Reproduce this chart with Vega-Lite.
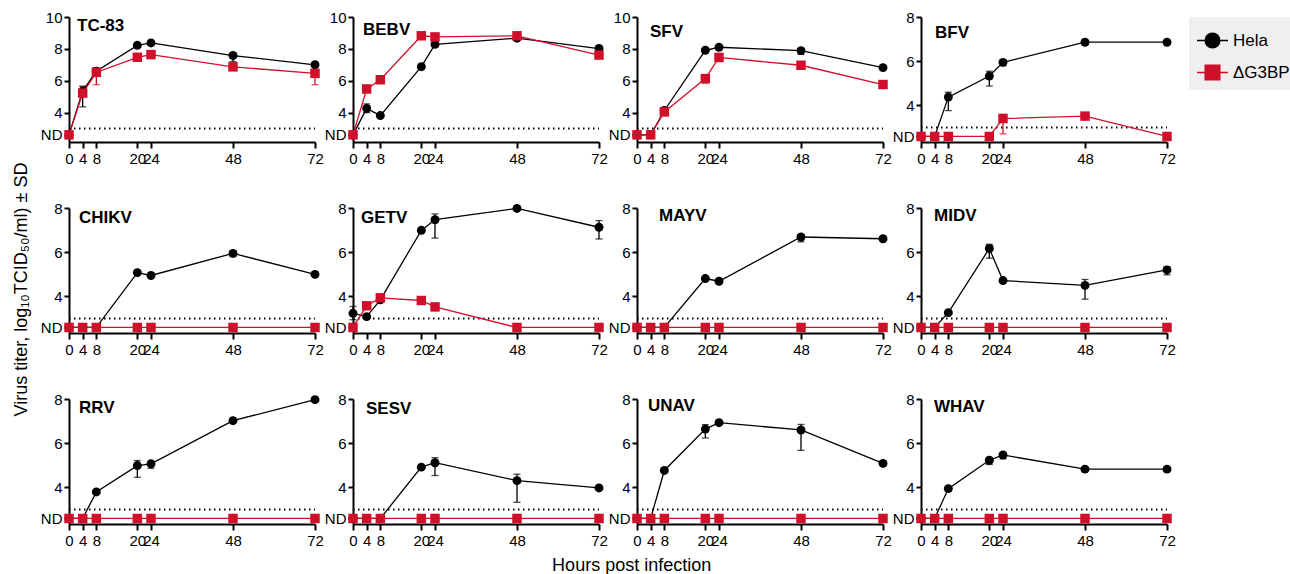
{
  "$schema": "https://vega.github.io/schema/vega-lite/v6.json",
  "background": "white",
  "padding": {"left": 12, "top": 10, "right": 0, "bottom": 0},
  "bounds": "flush",
  "columns": 4,
  "spacing": {"row": 66, "column": 38},
  "title": {"text": "Hours post infection", "orient": "bottom", "anchor": "middle", "fontSize": 18, "fontWeight": "normal", "font": "Liberation Sans", "color": "black", "offset": 9, "dx": -23},
  "data": {"values": [
      {"virus": "TC-83", "cell": "Hela", "hour": 0, "titer": 2.6},
      {"virus": "TC-83", "cell": "Hela", "hour": 4, "titer": 5.35, "lo": 4.35, "hi": 5.65},
      {"virus": "TC-83", "cell": "Hela", "hour": 8, "titer": 6.6, "lo": 6.4, "hi": 6.8},
      {"virus": "TC-83", "cell": "Hela", "hour": 20, "titer": 8.22},
      {"virus": "TC-83", "cell": "Hela", "hour": 24, "titer": 8.37},
      {"virus": "TC-83", "cell": "Hela", "hour": 48, "titer": 7.58, "lo": 7.2, "hi": 7.7},
      {"virus": "TC-83", "cell": "Hela", "hour": 72, "titer": 7.0},
      {"virus": "TC-83", "cell": "ΔG3BP", "hour": 0, "titer": 2.6},
      {"virus": "TC-83", "cell": "ΔG3BP", "hour": 4, "titer": 5.22},
      {"virus": "TC-83", "cell": "ΔG3BP", "hour": 8, "titer": 6.52, "lo": 5.75, "hi": 6.8},
      {"virus": "TC-83", "cell": "ΔG3BP", "hour": 20, "titer": 7.47},
      {"virus": "TC-83", "cell": "ΔG3BP", "hour": 24, "titer": 7.64},
      {"virus": "TC-83", "cell": "ΔG3BP", "hour": 48, "titer": 6.87},
      {"virus": "TC-83", "cell": "ΔG3BP", "hour": 72, "titer": 6.46, "lo": 5.75, "hi": 6.7},
      {"virus": "BEBV", "cell": "Hela", "hour": 0, "titer": 2.6},
      {"virus": "BEBV", "cell": "Hela", "hour": 4, "titer": 4.26, "lo": 4.0, "hi": 4.55},
      {"virus": "BEBV", "cell": "Hela", "hour": 8, "titer": 3.81},
      {"virus": "BEBV", "cell": "Hela", "hour": 20, "titer": 6.88},
      {"virus": "BEBV", "cell": "Hela", "hour": 24, "titer": 8.28},
      {"virus": "BEBV", "cell": "Hela", "hour": 48, "titer": 8.67},
      {"virus": "BEBV", "cell": "Hela", "hour": 72, "titer": 8.02},
      {"virus": "BEBV", "cell": "ΔG3BP", "hour": 0, "titer": 2.6},
      {"virus": "BEBV", "cell": "ΔG3BP", "hour": 4, "titer": 5.48},
      {"virus": "BEBV", "cell": "ΔG3BP", "hour": 8, "titer": 6.06},
      {"virus": "BEBV", "cell": "ΔG3BP", "hour": 20, "titer": 8.82},
      {"virus": "BEBV", "cell": "ΔG3BP", "hour": 24, "titer": 8.75},
      {"virus": "BEBV", "cell": "ΔG3BP", "hour": 48, "titer": 8.82},
      {"virus": "BEBV", "cell": "ΔG3BP", "hour": 72, "titer": 7.61},
      {"virus": "SFV", "cell": "Hela", "hour": 0, "titer": 2.6},
      {"virus": "SFV", "cell": "Hela", "hour": 4, "titer": 2.6},
      {"virus": "SFV", "cell": "Hela", "hour": 8, "titer": 4.13},
      {"virus": "SFV", "cell": "Hela", "hour": 20, "titer": 7.91},
      {"virus": "SFV", "cell": "Hela", "hour": 24, "titer": 8.1},
      {"virus": "SFV", "cell": "Hela", "hour": 48, "titer": 7.89, "lo": 7.65, "hi": 8.0},
      {"virus": "SFV", "cell": "Hela", "hour": 72, "titer": 6.82},
      {"virus": "SFV", "cell": "ΔG3BP", "hour": 0, "titer": 2.6},
      {"virus": "SFV", "cell": "ΔG3BP", "hour": 4, "titer": 2.6},
      {"virus": "SFV", "cell": "ΔG3BP", "hour": 8, "titer": 4.04},
      {"virus": "SFV", "cell": "ΔG3BP", "hour": 20, "titer": 6.13, "lo": 5.85, "hi": 6.35},
      {"virus": "SFV", "cell": "ΔG3BP", "hour": 24, "titer": 7.46},
      {"virus": "SFV", "cell": "ΔG3BP", "hour": 48, "titer": 6.97},
      {"virus": "SFV", "cell": "ΔG3BP", "hour": 72, "titer": 5.76},
      {"virus": "BFV", "cell": "Hela", "hour": 0, "titer": 2.6},
      {"virus": "BFV", "cell": "Hela", "hour": 4, "titer": 2.6},
      {"virus": "BFV", "cell": "Hela", "hour": 8, "titer": 4.38, "lo": 3.77, "hi": 4.6},
      {"virus": "BFV", "cell": "Hela", "hour": 20, "titer": 5.33, "lo": 4.88, "hi": 5.55},
      {"virus": "BFV", "cell": "Hela", "hour": 24, "titer": 5.95, "lo": 5.8, "hi": 6.05},
      {"virus": "BFV", "cell": "Hela", "hour": 48, "titer": 6.86, "lo": 6.75, "hi": 6.95},
      {"virus": "BFV", "cell": "Hela", "hour": 72, "titer": 6.86},
      {"virus": "BFV", "cell": "ΔG3BP", "hour": 0, "titer": 2.6},
      {"virus": "BFV", "cell": "ΔG3BP", "hour": 4, "titer": 2.6},
      {"virus": "BFV", "cell": "ΔG3BP", "hour": 8, "titer": 2.6},
      {"virus": "BFV", "cell": "ΔG3BP", "hour": 20, "titer": 2.6},
      {"virus": "BFV", "cell": "ΔG3BP", "hour": 24, "titer": 3.41, "lo": 2.72, "hi": 3.6},
      {"virus": "BFV", "cell": "ΔG3BP", "hour": 48, "titer": 3.52},
      {"virus": "BFV", "cell": "ΔG3BP", "hour": 72, "titer": 2.6},
      {"virus": "CHIKV", "cell": "Hela", "hour": 0, "titer": 2.6},
      {"virus": "CHIKV", "cell": "Hela", "hour": 4, "titer": 2.6},
      {"virus": "CHIKV", "cell": "Hela", "hour": 8, "titer": 2.6},
      {"virus": "CHIKV", "cell": "Hela", "hour": 20, "titer": 5.08},
      {"virus": "CHIKV", "cell": "Hela", "hour": 24, "titer": 4.95},
      {"virus": "CHIKV", "cell": "Hela", "hour": 48, "titer": 5.95, "lo": 5.8, "hi": 6.05},
      {"virus": "CHIKV", "cell": "Hela", "hour": 72, "titer": 5.0},
      {"virus": "CHIKV", "cell": "ΔG3BP", "hour": 0, "titer": 2.6},
      {"virus": "CHIKV", "cell": "ΔG3BP", "hour": 4, "titer": 2.6},
      {"virus": "CHIKV", "cell": "ΔG3BP", "hour": 8, "titer": 2.6},
      {"virus": "CHIKV", "cell": "ΔG3BP", "hour": 20, "titer": 2.6},
      {"virus": "CHIKV", "cell": "ΔG3BP", "hour": 24, "titer": 2.6},
      {"virus": "CHIKV", "cell": "ΔG3BP", "hour": 48, "titer": 2.6},
      {"virus": "CHIKV", "cell": "ΔG3BP", "hour": 72, "titer": 2.6},
      {"virus": "GETV", "cell": "Hela", "hour": 0, "titer": 3.24, "lo": 2.95, "hi": 3.55},
      {"virus": "GETV", "cell": "Hela", "hour": 4, "titer": 3.09},
      {"virus": "GETV", "cell": "Hela", "hour": 8, "titer": 3.85},
      {"virus": "GETV", "cell": "Hela", "hour": 20, "titer": 6.99},
      {"virus": "GETV", "cell": "Hela", "hour": 24, "titer": 7.47, "lo": 6.64, "hi": 7.73},
      {"virus": "GETV", "cell": "Hela", "hour": 48, "titer": 7.98},
      {"virus": "GETV", "cell": "Hela", "hour": 72, "titer": 7.13, "lo": 6.6, "hi": 7.43},
      {"virus": "GETV", "cell": "ΔG3BP", "hour": 0, "titer": 2.6},
      {"virus": "GETV", "cell": "ΔG3BP", "hour": 4, "titer": 3.58},
      {"virus": "GETV", "cell": "ΔG3BP", "hour": 8, "titer": 3.94},
      {"virus": "GETV", "cell": "ΔG3BP", "hour": 20, "titer": 3.82},
      {"virus": "GETV", "cell": "ΔG3BP", "hour": 24, "titer": 3.53},
      {"virus": "GETV", "cell": "ΔG3BP", "hour": 48, "titer": 2.6},
      {"virus": "GETV", "cell": "ΔG3BP", "hour": 72, "titer": 2.6},
      {"virus": "MAYV", "cell": "Hela", "hour": 0, "titer": 2.6},
      {"virus": "MAYV", "cell": "Hela", "hour": 4, "titer": 2.6},
      {"virus": "MAYV", "cell": "Hela", "hour": 8, "titer": 2.6},
      {"virus": "MAYV", "cell": "Hela", "hour": 20, "titer": 4.81},
      {"virus": "MAYV", "cell": "Hela", "hour": 24, "titer": 4.69},
      {"virus": "MAYV", "cell": "Hela", "hour": 48, "titer": 6.69, "lo": 6.47, "hi": 6.8},
      {"virus": "MAYV", "cell": "Hela", "hour": 72, "titer": 6.61},
      {"virus": "MAYV", "cell": "ΔG3BP", "hour": 0, "titer": 2.6},
      {"virus": "MAYV", "cell": "ΔG3BP", "hour": 4, "titer": 2.6},
      {"virus": "MAYV", "cell": "ΔG3BP", "hour": 8, "titer": 2.6},
      {"virus": "MAYV", "cell": "ΔG3BP", "hour": 20, "titer": 2.6},
      {"virus": "MAYV", "cell": "ΔG3BP", "hour": 24, "titer": 2.6},
      {"virus": "MAYV", "cell": "ΔG3BP", "hour": 48, "titer": 2.6},
      {"virus": "MAYV", "cell": "ΔG3BP", "hour": 72, "titer": 2.6},
      {"virus": "MIDV", "cell": "Hela", "hour": 0, "titer": 2.6},
      {"virus": "MIDV", "cell": "Hela", "hour": 4, "titer": 2.6},
      {"virus": "MIDV", "cell": "Hela", "hour": 8, "titer": 3.27},
      {"virus": "MIDV", "cell": "Hela", "hour": 20, "titer": 6.17, "lo": 5.73, "hi": 6.36},
      {"virus": "MIDV", "cell": "Hela", "hour": 24, "titer": 4.72},
      {"virus": "MIDV", "cell": "Hela", "hour": 48, "titer": 4.5, "lo": 3.88, "hi": 4.77},
      {"virus": "MIDV", "cell": "Hela", "hour": 72, "titer": 5.2, "lo": 4.98, "hi": 5.35},
      {"virus": "MIDV", "cell": "ΔG3BP", "hour": 0, "titer": 2.6},
      {"virus": "MIDV", "cell": "ΔG3BP", "hour": 4, "titer": 2.6},
      {"virus": "MIDV", "cell": "ΔG3BP", "hour": 8, "titer": 2.6},
      {"virus": "MIDV", "cell": "ΔG3BP", "hour": 20, "titer": 2.6},
      {"virus": "MIDV", "cell": "ΔG3BP", "hour": 24, "titer": 2.6},
      {"virus": "MIDV", "cell": "ΔG3BP", "hour": 48, "titer": 2.6},
      {"virus": "MIDV", "cell": "ΔG3BP", "hour": 72, "titer": 2.6},
      {"virus": "RRV", "cell": "Hela", "hour": 0, "titer": 2.6},
      {"virus": "RRV", "cell": "Hela", "hour": 4, "titer": 2.6},
      {"virus": "RRV", "cell": "Hela", "hour": 8, "titer": 3.8},
      {"virus": "RRV", "cell": "Hela", "hour": 20, "titer": 4.99, "lo": 4.46, "hi": 5.22},
      {"virus": "RRV", "cell": "Hela", "hour": 24, "titer": 5.07, "lo": 4.87, "hi": 5.2},
      {"virus": "RRV", "cell": "Hela", "hour": 48, "titer": 7.02},
      {"virus": "RRV", "cell": "Hela", "hour": 72, "titer": 7.97},
      {"virus": "RRV", "cell": "ΔG3BP", "hour": 0, "titer": 2.6},
      {"virus": "RRV", "cell": "ΔG3BP", "hour": 4, "titer": 2.6},
      {"virus": "RRV", "cell": "ΔG3BP", "hour": 8, "titer": 2.6},
      {"virus": "RRV", "cell": "ΔG3BP", "hour": 20, "titer": 2.6},
      {"virus": "RRV", "cell": "ΔG3BP", "hour": 24, "titer": 2.6},
      {"virus": "RRV", "cell": "ΔG3BP", "hour": 48, "titer": 2.6},
      {"virus": "RRV", "cell": "ΔG3BP", "hour": 72, "titer": 2.6},
      {"virus": "SESV", "cell": "Hela", "hour": 0, "titer": 2.6},
      {"virus": "SESV", "cell": "Hela", "hour": 4, "titer": 2.6},
      {"virus": "SESV", "cell": "Hela", "hour": 8, "titer": 2.6},
      {"virus": "SESV", "cell": "Hela", "hour": 20, "titer": 4.92},
      {"virus": "SESV", "cell": "Hela", "hour": 24, "titer": 5.12, "lo": 4.54, "hi": 5.35},
      {"virus": "SESV", "cell": "Hela", "hour": 48, "titer": 4.31, "lo": 3.33, "hi": 4.6},
      {"virus": "SESV", "cell": "Hela", "hour": 72, "titer": 3.98},
      {"virus": "SESV", "cell": "ΔG3BP", "hour": 0, "titer": 2.6},
      {"virus": "SESV", "cell": "ΔG3BP", "hour": 4, "titer": 2.6},
      {"virus": "SESV", "cell": "ΔG3BP", "hour": 8, "titer": 2.6},
      {"virus": "SESV", "cell": "ΔG3BP", "hour": 20, "titer": 2.6},
      {"virus": "SESV", "cell": "ΔG3BP", "hour": 24, "titer": 2.6},
      {"virus": "SESV", "cell": "ΔG3BP", "hour": 48, "titer": 2.6},
      {"virus": "SESV", "cell": "ΔG3BP", "hour": 72, "titer": 2.6},
      {"virus": "UNAV", "cell": "Hela", "hour": 0, "titer": 2.6},
      {"virus": "UNAV", "cell": "Hela", "hour": 4, "titer": 2.6},
      {"virus": "UNAV", "cell": "Hela", "hour": 8, "titer": 4.77},
      {"virus": "UNAV", "cell": "Hela", "hour": 20, "titer": 6.64, "lo": 6.24, "hi": 6.84},
      {"virus": "UNAV", "cell": "Hela", "hour": 24, "titer": 6.93},
      {"virus": "UNAV", "cell": "Hela", "hour": 48, "titer": 6.6, "lo": 5.68, "hi": 6.85},
      {"virus": "UNAV", "cell": "Hela", "hour": 72, "titer": 5.09},
      {"virus": "UNAV", "cell": "ΔG3BP", "hour": 0, "titer": 2.6},
      {"virus": "UNAV", "cell": "ΔG3BP", "hour": 4, "titer": 2.6},
      {"virus": "UNAV", "cell": "ΔG3BP", "hour": 8, "titer": 2.6},
      {"virus": "UNAV", "cell": "ΔG3BP", "hour": 20, "titer": 2.6},
      {"virus": "UNAV", "cell": "ΔG3BP", "hour": 24, "titer": 2.6},
      {"virus": "UNAV", "cell": "ΔG3BP", "hour": 48, "titer": 2.6},
      {"virus": "UNAV", "cell": "ΔG3BP", "hour": 72, "titer": 2.6},
      {"virus": "WHAV", "cell": "Hela", "hour": 0, "titer": 2.6},
      {"virus": "WHAV", "cell": "Hela", "hour": 4, "titer": 2.6},
      {"virus": "WHAV", "cell": "Hela", "hour": 8, "titer": 3.95, "lo": 3.85, "hi": 4.0},
      {"virus": "WHAV", "cell": "Hela", "hour": 20, "titer": 5.23, "lo": 5.04, "hi": 5.35},
      {"virus": "WHAV", "cell": "Hela", "hour": 24, "titer": 5.47, "lo": 5.3, "hi": 5.55},
      {"virus": "WHAV", "cell": "Hela", "hour": 48, "titer": 4.83},
      {"virus": "WHAV", "cell": "Hela", "hour": 72, "titer": 4.83},
      {"virus": "WHAV", "cell": "ΔG3BP", "hour": 0, "titer": 2.6},
      {"virus": "WHAV", "cell": "ΔG3BP", "hour": 4, "titer": 2.6},
      {"virus": "WHAV", "cell": "ΔG3BP", "hour": 8, "titer": 2.6},
      {"virus": "WHAV", "cell": "ΔG3BP", "hour": 20, "titer": 2.6},
      {"virus": "WHAV", "cell": "ΔG3BP", "hour": 24, "titer": 2.6},
      {"virus": "WHAV", "cell": "ΔG3BP", "hour": 48, "titer": 2.6},
      {"virus": "WHAV", "cell": "ΔG3BP", "hour": 72, "titer": 2.6}
  ]},
  "concat": [
    {"width": 246, "height": 125, "layer": [
      {"transform": [{"filter": "datum.virus === 'TC-83'"}, {"aggregate": [{"op": "count", "as": "n"}], "groupby": ["virus"]}], "mark": {"type": "rule", "color": "black", "strokeWidth": 2, "strokeDash": [1.5, 3.5]}, "encoding": {"x": {"datum": 0, "type": "quantitative", "title": null}, "x2": {"datum": 72}, "y": {"datum": 3, "type": "quantitative", "title": null}}},
      {"transform": [{"filter": "datum.virus === 'TC-83' && datum.cell === 'Hela'"}], "mark": {"type": "line", "strokeWidth": 1.3, "color": "black"}, "encoding": {
        "x": {"field": "hour", "type": "quantitative", "scale": {"domain": [0, 72], "nice": false, "zero": false}, "axis": {"values": [0, 4, 8, 20, 24, 48, 72], "tickCount": 20, "format": "d", "encode": {"labels": {"update": {"dx": {"signal": "datum.value === 24 ? 3.5 : 0"}}}}}, "title": null},
        "y": {"field": "titer", "type": "quantitative", "scale": {"domain": [2.15, 10], "nice": false, "zero": false}, "axis": {"values": [2.6, 4, 6, 8, 10], "tickCount": 20, "format": "d", "labelExpr": "datum.value < 3 ? 'ND' : datum.label"}, "title": null}}},
      {"transform": [{"filter": "datum.virus === 'TC-83' && datum.cell === 'ΔG3BP'"}], "mark": {"type": "line", "strokeWidth": 1.3, "color": "#d0102a"}, "encoding": {"x": {"field": "hour", "type": "quantitative", "title": null}, "y": {"field": "titer", "type": "quantitative", "title": null}}},
      {"transform": [{"filter": "datum.virus === 'TC-83' && datum.cell === 'Hela' && isValid(datum.lo)"}], "mark": {"type": "errorbar", "ticks": true, "size": 7, "thickness": 1.3, "color": "black"}, "encoding": {"x": {"field": "hour", "type": "quantitative", "title": null}, "y": {"field": "lo", "type": "quantitative", "title": null}, "y2": {"field": "hi"}}},
      {"transform": [{"filter": "datum.virus === 'TC-83' && datum.cell === 'ΔG3BP' && isValid(datum.lo)"}], "mark": {"type": "errorbar", "ticks": true, "size": 7, "thickness": 1.3, "color": "#d0102a"}, "encoding": {"x": {"field": "hour", "type": "quantitative", "title": null}, "y": {"field": "lo", "type": "quantitative", "title": null}, "y2": {"field": "hi"}}},
      {"transform": [{"filter": "datum.virus === 'TC-83' && datum.cell === 'Hela'"}], "mark": {"type": "point", "shape": "circle", "filled": true, "opacity": 1, "size": 80}, "encoding": {
        "x": {"field": "hour", "type": "quantitative", "title": null},
        "y": {"field": "titer", "type": "quantitative", "title": null},
        "color": {"field": "cell", "type": "nominal", "scale": {"domain": ["Hela", "ΔG3BP"], "range": ["black", "#d0102a"]}, "legend": {
          "title": null, "orient": "none", "legendX": 1120, "legendY": 0,
          "symbolType": "M-1,0H1M0.47,0A0.47,0.47,0,1,1,-0.47,0A0.47,0.47,0,1,1,0.47,0Z",
          "symbolSize": 961, "symbolStrokeWidth": 1.5, "symbolOpacity": 1,
          "encode": {"symbols": {"update": {
            "shape": {"signal": "datum.value === 'Hela' ? 'M-1,0H1M0.47,0A0.47,0.47,0,1,1,-0.47,0A0.47,0.47,0,1,1,0.47,0Z' : 'M-1,0H1M-0.47,-0.47H0.47V0.47H-0.47Z'"},
            "stroke": {"signal": "datum.value === 'Hela' ? 'black' : '#d0102a'"},
            "strokeWidth": {"value": 1.5}}}}}}}},
      {"transform": [{"filter": "datum.virus === 'TC-83' && datum.cell === 'ΔG3BP'"}], "mark": {"type": "point", "shape": "square", "filled": true, "opacity": 1, "size": 90, "color": "#d0102a"}, "encoding": {"x": {"field": "hour", "type": "quantitative", "title": null}, "y": {"field": "titer", "type": "quantitative", "title": null}}},
      {"transform": [{"filter": "datum.virus === 'TC-83'"}, {"aggregate": [{"op": "count", "as": "n"}], "groupby": ["virus"]}], "mark": {"type": "text", "fontWeight": "bold", "fontSize": 17, "font": "Liberation Sans", "align": "left", "baseline": "top", "dx": 8, "dy": 1, "color": "black"}, "encoding": {"x": {"datum": 0, "type": "quantitative", "title": null}, "y": {"datum": 10, "type": "quantitative", "title": null}, "text": {"field": "virus"}}}
    ]},
    {"width": 246, "height": 125, "layer": [
      {"transform": [{"filter": "datum.virus === 'BEBV'"}, {"aggregate": [{"op": "count", "as": "n"}], "groupby": ["virus"]}], "mark": {"type": "rule", "color": "black", "strokeWidth": 2, "strokeDash": [1.5, 3.5]}, "encoding": {"x": {"datum": 0, "type": "quantitative", "title": null}, "x2": {"datum": 72}, "y": {"datum": 3, "type": "quantitative", "title": null}}},
      {"transform": [{"filter": "datum.virus === 'BEBV' && datum.cell === 'Hela'"}], "mark": {"type": "line", "strokeWidth": 1.3, "color": "black"}, "encoding": {
        "x": {"field": "hour", "type": "quantitative", "scale": {"domain": [0, 72], "nice": false, "zero": false}, "axis": {"values": [0, 4, 8, 20, 24, 48, 72], "tickCount": 20, "format": "d", "encode": {"labels": {"update": {"dx": {"signal": "datum.value === 24 ? 3.5 : 0"}}}}}, "title": null},
        "y": {"field": "titer", "type": "quantitative", "scale": {"domain": [2.15, 10], "nice": false, "zero": false}, "axis": {"values": [2.6, 4, 6, 8, 10], "tickCount": 20, "format": "d", "labelExpr": "datum.value < 3 ? 'ND' : datum.label"}, "title": null}}},
      {"transform": [{"filter": "datum.virus === 'BEBV' && datum.cell === 'ΔG3BP'"}], "mark": {"type": "line", "strokeWidth": 1.3, "color": "#d0102a"}, "encoding": {"x": {"field": "hour", "type": "quantitative", "title": null}, "y": {"field": "titer", "type": "quantitative", "title": null}}},
      {"transform": [{"filter": "datum.virus === 'BEBV' && datum.cell === 'Hela' && isValid(datum.lo)"}], "mark": {"type": "errorbar", "ticks": true, "size": 7, "thickness": 1.3, "color": "black"}, "encoding": {"x": {"field": "hour", "type": "quantitative", "title": null}, "y": {"field": "lo", "type": "quantitative", "title": null}, "y2": {"field": "hi"}}},
      {"transform": [{"filter": "datum.virus === 'BEBV' && datum.cell === 'Hela'"}], "mark": {"type": "point", "shape": "circle", "filled": true, "opacity": 1, "size": 80, "color": "black"}, "encoding": {"x": {"field": "hour", "type": "quantitative", "title": null}, "y": {"field": "titer", "type": "quantitative", "title": null}}},
      {"transform": [{"filter": "datum.virus === 'BEBV' && datum.cell === 'ΔG3BP'"}], "mark": {"type": "point", "shape": "square", "filled": true, "opacity": 1, "size": 90, "color": "#d0102a"}, "encoding": {"x": {"field": "hour", "type": "quantitative", "title": null}, "y": {"field": "titer", "type": "quantitative", "title": null}}},
      {"transform": [{"filter": "datum.virus === 'BEBV'"}, {"aggregate": [{"op": "count", "as": "n"}], "groupby": ["virus"]}], "mark": {"type": "text", "fontWeight": "bold", "fontSize": 17, "font": "Liberation Sans", "align": "left", "baseline": "top", "dx": 10, "dy": 5, "color": "black"}, "encoding": {"x": {"datum": 0, "type": "quantitative", "title": null}, "y": {"datum": 10, "type": "quantitative", "title": null}, "text": {"field": "virus"}}}
    ]},
    {"width": 246, "height": 125, "layer": [
      {"transform": [{"filter": "datum.virus === 'SFV'"}, {"aggregate": [{"op": "count", "as": "n"}], "groupby": ["virus"]}], "mark": {"type": "rule", "color": "black", "strokeWidth": 2, "strokeDash": [1.5, 3.5]}, "encoding": {"x": {"datum": 0, "type": "quantitative", "title": null}, "x2": {"datum": 72}, "y": {"datum": 3, "type": "quantitative", "title": null}}},
      {"transform": [{"filter": "datum.virus === 'SFV' && datum.cell === 'Hela'"}], "mark": {"type": "line", "strokeWidth": 1.3, "color": "black"}, "encoding": {
        "x": {"field": "hour", "type": "quantitative", "scale": {"domain": [0, 72], "nice": false, "zero": false}, "axis": {"values": [0, 4, 8, 20, 24, 48, 72], "tickCount": 20, "format": "d", "encode": {"labels": {"update": {"dx": {"signal": "datum.value === 24 ? 3.5 : 0"}}}}}, "title": null},
        "y": {"field": "titer", "type": "quantitative", "scale": {"domain": [2.15, 10], "nice": false, "zero": false}, "axis": {"values": [2.6, 4, 6, 8, 10], "tickCount": 20, "format": "d", "labelExpr": "datum.value < 3 ? 'ND' : datum.label"}, "title": null}}},
      {"transform": [{"filter": "datum.virus === 'SFV' && datum.cell === 'ΔG3BP'"}], "mark": {"type": "line", "strokeWidth": 1.3, "color": "#d0102a"}, "encoding": {"x": {"field": "hour", "type": "quantitative", "title": null}, "y": {"field": "titer", "type": "quantitative", "title": null}}},
      {"transform": [{"filter": "datum.virus === 'SFV' && datum.cell === 'Hela' && isValid(datum.lo)"}], "mark": {"type": "errorbar", "ticks": true, "size": 7, "thickness": 1.3, "color": "black"}, "encoding": {"x": {"field": "hour", "type": "quantitative", "title": null}, "y": {"field": "lo", "type": "quantitative", "title": null}, "y2": {"field": "hi"}}},
      {"transform": [{"filter": "datum.virus === 'SFV' && datum.cell === 'ΔG3BP' && isValid(datum.lo)"}], "mark": {"type": "errorbar", "ticks": true, "size": 7, "thickness": 1.3, "color": "#d0102a"}, "encoding": {"x": {"field": "hour", "type": "quantitative", "title": null}, "y": {"field": "lo", "type": "quantitative", "title": null}, "y2": {"field": "hi"}}},
      {"transform": [{"filter": "datum.virus === 'SFV' && datum.cell === 'Hela'"}], "mark": {"type": "point", "shape": "circle", "filled": true, "opacity": 1, "size": 80, "color": "black"}, "encoding": {"x": {"field": "hour", "type": "quantitative", "title": null}, "y": {"field": "titer", "type": "quantitative", "title": null}}},
      {"transform": [{"filter": "datum.virus === 'SFV' && datum.cell === 'ΔG3BP'"}], "mark": {"type": "point", "shape": "square", "filled": true, "opacity": 1, "size": 90, "color": "#d0102a"}, "encoding": {"x": {"field": "hour", "type": "quantitative", "title": null}, "y": {"field": "titer", "type": "quantitative", "title": null}}},
      {"transform": [{"filter": "datum.virus === 'SFV'"}, {"aggregate": [{"op": "count", "as": "n"}], "groupby": ["virus"]}], "mark": {"type": "text", "fontWeight": "bold", "fontSize": 17, "font": "Liberation Sans", "align": "left", "baseline": "top", "dx": 13, "dy": 7, "color": "black"}, "encoding": {"x": {"datum": 0, "type": "quantitative", "title": null}, "y": {"datum": 10, "type": "quantitative", "title": null}, "text": {"field": "virus"}}}
    ]},
    {"width": 246, "height": 125, "layer": [
      {"transform": [{"filter": "datum.virus === 'BFV'"}, {"aggregate": [{"op": "count", "as": "n"}], "groupby": ["virus"]}], "mark": {"type": "rule", "color": "black", "strokeWidth": 2, "strokeDash": [1.5, 3.5]}, "encoding": {"x": {"datum": 0, "type": "quantitative", "title": null}, "x2": {"datum": 72}, "y": {"datum": 3, "type": "quantitative", "title": null}}},
      {"transform": [{"filter": "datum.virus === 'BFV' && datum.cell === 'Hela'"}], "mark": {"type": "line", "strokeWidth": 1.3, "color": "black"}, "encoding": {
        "x": {"field": "hour", "type": "quantitative", "scale": {"domain": [0, 72], "nice": false, "zero": false}, "axis": {"values": [0, 4, 8, 20, 24, 48, 72], "tickCount": 20, "format": "d", "encode": {"labels": {"update": {"dx": {"signal": "datum.value === 24 ? 3.5 : 0"}}}}}, "title": null},
        "y": {"field": "titer", "type": "quantitative", "scale": {"domain": [2.35, 8], "nice": false, "zero": false}, "axis": {"values": [2.6, 4, 6, 8], "tickCount": 20, "format": "d", "labelExpr": "datum.value < 3 ? 'ND' : datum.label"}, "title": null}}},
      {"transform": [{"filter": "datum.virus === 'BFV' && datum.cell === 'ΔG3BP'"}], "mark": {"type": "line", "strokeWidth": 1.3, "color": "#d0102a"}, "encoding": {"x": {"field": "hour", "type": "quantitative", "title": null}, "y": {"field": "titer", "type": "quantitative", "title": null}}},
      {"transform": [{"filter": "datum.virus === 'BFV' && datum.cell === 'Hela' && isValid(datum.lo)"}], "mark": {"type": "errorbar", "ticks": true, "size": 7, "thickness": 1.3, "color": "black"}, "encoding": {"x": {"field": "hour", "type": "quantitative", "title": null}, "y": {"field": "lo", "type": "quantitative", "title": null}, "y2": {"field": "hi"}}},
      {"transform": [{"filter": "datum.virus === 'BFV' && datum.cell === 'ΔG3BP' && isValid(datum.lo)"}], "mark": {"type": "errorbar", "ticks": true, "size": 7, "thickness": 1.3, "color": "#d0102a"}, "encoding": {"x": {"field": "hour", "type": "quantitative", "title": null}, "y": {"field": "lo", "type": "quantitative", "title": null}, "y2": {"field": "hi"}}},
      {"transform": [{"filter": "datum.virus === 'BFV' && datum.cell === 'Hela'"}], "mark": {"type": "point", "shape": "circle", "filled": true, "opacity": 1, "size": 80, "color": "black"}, "encoding": {"x": {"field": "hour", "type": "quantitative", "title": null}, "y": {"field": "titer", "type": "quantitative", "title": null}}},
      {"transform": [{"filter": "datum.virus === 'BFV' && datum.cell === 'ΔG3BP'"}], "mark": {"type": "point", "shape": "square", "filled": true, "opacity": 1, "size": 90, "color": "#d0102a"}, "encoding": {"x": {"field": "hour", "type": "quantitative", "title": null}, "y": {"field": "titer", "type": "quantitative", "title": null}}},
      {"transform": [{"filter": "datum.virus === 'BFV'"}, {"aggregate": [{"op": "count", "as": "n"}], "groupby": ["virus"]}], "mark": {"type": "text", "fontWeight": "bold", "fontSize": 17, "font": "Liberation Sans", "align": "left", "baseline": "top", "dx": 14, "dy": 8, "color": "black"}, "encoding": {"x": {"datum": 0, "type": "quantitative", "title": null}, "y": {"datum": 8, "type": "quantitative", "title": null}, "text": {"field": "virus"}}}
    ]},
    {"width": 246, "height": 125, "layer": [
      {"transform": [{"filter": "datum.virus === 'CHIKV'"}, {"aggregate": [{"op": "count", "as": "n"}], "groupby": ["virus"]}], "mark": {"type": "rule", "color": "black", "strokeWidth": 2, "strokeDash": [1.5, 3.5]}, "encoding": {"x": {"datum": 0, "type": "quantitative", "title": null}, "x2": {"datum": 72}, "y": {"datum": 3, "type": "quantitative", "title": "Virus titer, log₁₀TCID₅₀/ml) ± SD"}}},
      {"transform": [{"filter": "datum.virus === 'CHIKV' && datum.cell === 'Hela'"}], "mark": {"type": "line", "strokeWidth": 1.3, "color": "black"}, "encoding": {
        "x": {"field": "hour", "type": "quantitative", "scale": {"domain": [0, 72], "nice": false, "zero": false}, "axis": {"values": [0, 4, 8, 20, 24, 48, 72], "tickCount": 20, "format": "d", "encode": {"labels": {"update": {"dx": {"signal": "datum.value === 24 ? 3.5 : 0"}}}}}, "title": null},
        "y": {"field": "titer", "type": "quantitative", "scale": {"domain": [2.35, 8], "nice": false, "zero": false}, "axis": {"values": [2.6, 4, 6, 8], "tickCount": 20, "format": "d", "labelExpr": "datum.value < 3 ? 'ND' : datum.label", "titlePadding": 10, "titleY": 81, "titleFontSize": 18}, "title": "Virus titer, log₁₀TCID₅₀/ml) ± SD"}}},
      {"transform": [{"filter": "datum.virus === 'CHIKV' && datum.cell === 'ΔG3BP'"}], "mark": {"type": "line", "strokeWidth": 1.3, "color": "#d0102a"}, "encoding": {"x": {"field": "hour", "type": "quantitative", "title": null}, "y": {"field": "titer", "type": "quantitative", "title": "Virus titer, log₁₀TCID₅₀/ml) ± SD"}}},
      {"transform": [{"filter": "datum.virus === 'CHIKV' && datum.cell === 'Hela' && isValid(datum.lo)"}], "mark": {"type": "errorbar", "ticks": true, "size": 7, "thickness": 1.3, "color": "black"}, "encoding": {"x": {"field": "hour", "type": "quantitative", "title": null}, "y": {"field": "lo", "type": "quantitative", "title": "Virus titer, log₁₀TCID₅₀/ml) ± SD"}, "y2": {"field": "hi"}}},
      {"transform": [{"filter": "datum.virus === 'CHIKV' && datum.cell === 'Hela'"}], "mark": {"type": "point", "shape": "circle", "filled": true, "opacity": 1, "size": 80, "color": "black"}, "encoding": {"x": {"field": "hour", "type": "quantitative", "title": null}, "y": {"field": "titer", "type": "quantitative", "title": "Virus titer, log₁₀TCID₅₀/ml) ± SD"}}},
      {"transform": [{"filter": "datum.virus === 'CHIKV' && datum.cell === 'ΔG3BP'"}], "mark": {"type": "point", "shape": "square", "filled": true, "opacity": 1, "size": 90, "color": "#d0102a"}, "encoding": {"x": {"field": "hour", "type": "quantitative", "title": null}, "y": {"field": "titer", "type": "quantitative", "title": "Virus titer, log₁₀TCID₅₀/ml) ± SD"}}},
      {"transform": [{"filter": "datum.virus === 'CHIKV'"}, {"aggregate": [{"op": "count", "as": "n"}], "groupby": ["virus"]}], "mark": {"type": "text", "fontWeight": "bold", "fontSize": 17, "font": "Liberation Sans", "align": "left", "baseline": "top", "dx": 10, "dy": 2, "color": "black"}, "encoding": {"x": {"datum": 0, "type": "quantitative", "title": null}, "y": {"datum": 8, "type": "quantitative", "title": "Virus titer, log₁₀TCID₅₀/ml) ± SD"}, "text": {"field": "virus"}}}
    ]},
    {"width": 246, "height": 125, "layer": [
      {"transform": [{"filter": "datum.virus === 'GETV'"}, {"aggregate": [{"op": "count", "as": "n"}], "groupby": ["virus"]}], "mark": {"type": "rule", "color": "black", "strokeWidth": 2, "strokeDash": [1.5, 3.5]}, "encoding": {"x": {"datum": 0, "type": "quantitative", "title": null}, "x2": {"datum": 72}, "y": {"datum": 3, "type": "quantitative", "title": null}}},
      {"transform": [{"filter": "datum.virus === 'GETV' && datum.cell === 'Hela'"}], "mark": {"type": "line", "strokeWidth": 1.3, "color": "black"}, "encoding": {
        "x": {"field": "hour", "type": "quantitative", "scale": {"domain": [0, 72], "nice": false, "zero": false}, "axis": {"values": [0, 4, 8, 20, 24, 48, 72], "tickCount": 20, "format": "d", "encode": {"labels": {"update": {"dx": {"signal": "datum.value === 24 ? 3.5 : 0"}}}}}, "title": null},
        "y": {"field": "titer", "type": "quantitative", "scale": {"domain": [2.35, 8], "nice": false, "zero": false}, "axis": {"values": [2.6, 4, 6, 8], "tickCount": 20, "format": "d", "labelExpr": "datum.value < 3 ? 'ND' : datum.label"}, "title": null}}},
      {"transform": [{"filter": "datum.virus === 'GETV' && datum.cell === 'ΔG3BP'"}], "mark": {"type": "line", "strokeWidth": 1.3, "color": "#d0102a"}, "encoding": {"x": {"field": "hour", "type": "quantitative", "title": null}, "y": {"field": "titer", "type": "quantitative", "title": null}}},
      {"transform": [{"filter": "datum.virus === 'GETV' && datum.cell === 'Hela' && isValid(datum.lo)"}], "mark": {"type": "errorbar", "ticks": true, "size": 7, "thickness": 1.3, "color": "black"}, "encoding": {"x": {"field": "hour", "type": "quantitative", "title": null}, "y": {"field": "lo", "type": "quantitative", "title": null}, "y2": {"field": "hi"}}},
      {"transform": [{"filter": "datum.virus === 'GETV' && datum.cell === 'Hela'"}], "mark": {"type": "point", "shape": "circle", "filled": true, "opacity": 1, "size": 80, "color": "black"}, "encoding": {"x": {"field": "hour", "type": "quantitative", "title": null}, "y": {"field": "titer", "type": "quantitative", "title": null}}},
      {"transform": [{"filter": "datum.virus === 'GETV' && datum.cell === 'ΔG3BP'"}], "mark": {"type": "point", "shape": "square", "filled": true, "opacity": 1, "size": 90, "color": "#d0102a"}, "encoding": {"x": {"field": "hour", "type": "quantitative", "title": null}, "y": {"field": "titer", "type": "quantitative", "title": null}}},
      {"transform": [{"filter": "datum.virus === 'GETV'"}, {"aggregate": [{"op": "count", "as": "n"}], "groupby": ["virus"]}], "mark": {"type": "text", "fontWeight": "bold", "fontSize": 17, "font": "Liberation Sans", "align": "left", "baseline": "top", "dx": 8, "dy": 2, "color": "black"}, "encoding": {"x": {"datum": 0, "type": "quantitative", "title": null}, "y": {"datum": 8, "type": "quantitative", "title": null}, "text": {"field": "virus"}}}
    ]},
    {"width": 246, "height": 125, "layer": [
      {"transform": [{"filter": "datum.virus === 'MAYV'"}, {"aggregate": [{"op": "count", "as": "n"}], "groupby": ["virus"]}], "mark": {"type": "rule", "color": "black", "strokeWidth": 2, "strokeDash": [1.5, 3.5]}, "encoding": {"x": {"datum": 0, "type": "quantitative", "title": null}, "x2": {"datum": 72}, "y": {"datum": 3, "type": "quantitative", "title": null}}},
      {"transform": [{"filter": "datum.virus === 'MAYV' && datum.cell === 'Hela'"}], "mark": {"type": "line", "strokeWidth": 1.3, "color": "black"}, "encoding": {
        "x": {"field": "hour", "type": "quantitative", "scale": {"domain": [0, 72], "nice": false, "zero": false}, "axis": {"values": [0, 4, 8, 20, 24, 48, 72], "tickCount": 20, "format": "d", "encode": {"labels": {"update": {"dx": {"signal": "datum.value === 24 ? 3.5 : 0"}}}}}, "title": null},
        "y": {"field": "titer", "type": "quantitative", "scale": {"domain": [2.35, 8], "nice": false, "zero": false}, "axis": {"values": [2.6, 4, 6, 8], "tickCount": 20, "format": "d", "labelExpr": "datum.value < 3 ? 'ND' : datum.label"}, "title": null}}},
      {"transform": [{"filter": "datum.virus === 'MAYV' && datum.cell === 'ΔG3BP'"}], "mark": {"type": "line", "strokeWidth": 1.3, "color": "#d0102a"}, "encoding": {"x": {"field": "hour", "type": "quantitative", "title": null}, "y": {"field": "titer", "type": "quantitative", "title": null}}},
      {"transform": [{"filter": "datum.virus === 'MAYV' && datum.cell === 'Hela' && isValid(datum.lo)"}], "mark": {"type": "errorbar", "ticks": true, "size": 7, "thickness": 1.3, "color": "black"}, "encoding": {"x": {"field": "hour", "type": "quantitative", "title": null}, "y": {"field": "lo", "type": "quantitative", "title": null}, "y2": {"field": "hi"}}},
      {"transform": [{"filter": "datum.virus === 'MAYV' && datum.cell === 'Hela'"}], "mark": {"type": "point", "shape": "circle", "filled": true, "opacity": 1, "size": 80, "color": "black"}, "encoding": {"x": {"field": "hour", "type": "quantitative", "title": null}, "y": {"field": "titer", "type": "quantitative", "title": null}}},
      {"transform": [{"filter": "datum.virus === 'MAYV' && datum.cell === 'ΔG3BP'"}], "mark": {"type": "point", "shape": "square", "filled": true, "opacity": 1, "size": 90, "color": "#d0102a"}, "encoding": {"x": {"field": "hour", "type": "quantitative", "title": null}, "y": {"field": "titer", "type": "quantitative", "title": null}}},
      {"transform": [{"filter": "datum.virus === 'MAYV'"}, {"aggregate": [{"op": "count", "as": "n"}], "groupby": ["virus"]}], "mark": {"type": "text", "fontWeight": "bold", "fontSize": 17, "font": "Liberation Sans", "align": "left", "baseline": "top", "dx": 22, "dy": 0, "color": "black"}, "encoding": {"x": {"datum": 0, "type": "quantitative", "title": null}, "y": {"datum": 8, "type": "quantitative", "title": null}, "text": {"field": "virus"}}}
    ]},
    {"width": 246, "height": 125, "layer": [
      {"transform": [{"filter": "datum.virus === 'MIDV'"}, {"aggregate": [{"op": "count", "as": "n"}], "groupby": ["virus"]}], "mark": {"type": "rule", "color": "black", "strokeWidth": 2, "strokeDash": [1.5, 3.5]}, "encoding": {"x": {"datum": 0, "type": "quantitative", "title": null}, "x2": {"datum": 72}, "y": {"datum": 3, "type": "quantitative", "title": null}}},
      {"transform": [{"filter": "datum.virus === 'MIDV' && datum.cell === 'Hela'"}], "mark": {"type": "line", "strokeWidth": 1.3, "color": "black"}, "encoding": {
        "x": {"field": "hour", "type": "quantitative", "scale": {"domain": [0, 72], "nice": false, "zero": false}, "axis": {"values": [0, 4, 8, 20, 24, 48, 72], "tickCount": 20, "format": "d", "encode": {"labels": {"update": {"dx": {"signal": "datum.value === 24 ? 3.5 : 0"}}}}}, "title": null},
        "y": {"field": "titer", "type": "quantitative", "scale": {"domain": [2.35, 8], "nice": false, "zero": false}, "axis": {"values": [2.6, 4, 6, 8], "tickCount": 20, "format": "d", "labelExpr": "datum.value < 3 ? 'ND' : datum.label"}, "title": null}}},
      {"transform": [{"filter": "datum.virus === 'MIDV' && datum.cell === 'ΔG3BP'"}], "mark": {"type": "line", "strokeWidth": 1.3, "color": "#d0102a"}, "encoding": {"x": {"field": "hour", "type": "quantitative", "title": null}, "y": {"field": "titer", "type": "quantitative", "title": null}}},
      {"transform": [{"filter": "datum.virus === 'MIDV' && datum.cell === 'Hela' && isValid(datum.lo)"}], "mark": {"type": "errorbar", "ticks": true, "size": 7, "thickness": 1.3, "color": "black"}, "encoding": {"x": {"field": "hour", "type": "quantitative", "title": null}, "y": {"field": "lo", "type": "quantitative", "title": null}, "y2": {"field": "hi"}}},
      {"transform": [{"filter": "datum.virus === 'MIDV' && datum.cell === 'Hela'"}], "mark": {"type": "point", "shape": "circle", "filled": true, "opacity": 1, "size": 80, "color": "black"}, "encoding": {"x": {"field": "hour", "type": "quantitative", "title": null}, "y": {"field": "titer", "type": "quantitative", "title": null}}},
      {"transform": [{"filter": "datum.virus === 'MIDV' && datum.cell === 'ΔG3BP'"}], "mark": {"type": "point", "shape": "square", "filled": true, "opacity": 1, "size": 90, "color": "#d0102a"}, "encoding": {"x": {"field": "hour", "type": "quantitative", "title": null}, "y": {"field": "titer", "type": "quantitative", "title": null}}},
      {"transform": [{"filter": "datum.virus === 'MIDV'"}, {"aggregate": [{"op": "count", "as": "n"}], "groupby": ["virus"]}], "mark": {"type": "text", "fontWeight": "bold", "fontSize": 17, "font": "Liberation Sans", "align": "left", "baseline": "top", "dx": 13, "dy": 0, "color": "black"}, "encoding": {"x": {"datum": 0, "type": "quantitative", "title": null}, "y": {"datum": 8, "type": "quantitative", "title": null}, "text": {"field": "virus"}}}
    ]},
    {"width": 246, "height": 125, "layer": [
      {"transform": [{"filter": "datum.virus === 'RRV'"}, {"aggregate": [{"op": "count", "as": "n"}], "groupby": ["virus"]}], "mark": {"type": "rule", "color": "black", "strokeWidth": 2, "strokeDash": [1.5, 3.5]}, "encoding": {"x": {"datum": 0, "type": "quantitative", "title": null}, "x2": {"datum": 72}, "y": {"datum": 3, "type": "quantitative", "title": null}}},
      {"transform": [{"filter": "datum.virus === 'RRV' && datum.cell === 'Hela'"}], "mark": {"type": "line", "strokeWidth": 1.3, "color": "black"}, "encoding": {
        "x": {"field": "hour", "type": "quantitative", "scale": {"domain": [0, 72], "nice": false, "zero": false}, "axis": {"values": [0, 4, 8, 20, 24, 48, 72], "tickCount": 20, "format": "d", "encode": {"labels": {"update": {"dx": {"signal": "datum.value === 24 ? 3.5 : 0"}}}}}, "title": null},
        "y": {"field": "titer", "type": "quantitative", "scale": {"domain": [2.35, 8], "nice": false, "zero": false}, "axis": {"values": [2.6, 4, 6, 8], "tickCount": 20, "format": "d", "labelExpr": "datum.value < 3 ? 'ND' : datum.label"}, "title": null}}},
      {"transform": [{"filter": "datum.virus === 'RRV' && datum.cell === 'ΔG3BP'"}], "mark": {"type": "line", "strokeWidth": 1.3, "color": "#d0102a"}, "encoding": {"x": {"field": "hour", "type": "quantitative", "title": null}, "y": {"field": "titer", "type": "quantitative", "title": null}}},
      {"transform": [{"filter": "datum.virus === 'RRV' && datum.cell === 'Hela' && isValid(datum.lo)"}], "mark": {"type": "errorbar", "ticks": true, "size": 7, "thickness": 1.3, "color": "black"}, "encoding": {"x": {"field": "hour", "type": "quantitative", "title": null}, "y": {"field": "lo", "type": "quantitative", "title": null}, "y2": {"field": "hi"}}},
      {"transform": [{"filter": "datum.virus === 'RRV' && datum.cell === 'Hela'"}], "mark": {"type": "point", "shape": "circle", "filled": true, "opacity": 1, "size": 80, "color": "black"}, "encoding": {"x": {"field": "hour", "type": "quantitative", "title": null}, "y": {"field": "titer", "type": "quantitative", "title": null}}},
      {"transform": [{"filter": "datum.virus === 'RRV' && datum.cell === 'ΔG3BP'"}], "mark": {"type": "point", "shape": "square", "filled": true, "opacity": 1, "size": 90, "color": "#d0102a"}, "encoding": {"x": {"field": "hour", "type": "quantitative", "title": null}, "y": {"field": "titer", "type": "quantitative", "title": null}}},
      {"transform": [{"filter": "datum.virus === 'RRV'"}, {"aggregate": [{"op": "count", "as": "n"}], "groupby": ["virus"]}], "mark": {"type": "text", "fontWeight": "bold", "fontSize": 17, "font": "Liberation Sans", "align": "left", "baseline": "top", "dx": 10, "dy": 1, "color": "black"}, "encoding": {"x": {"datum": 0, "type": "quantitative", "title": null}, "y": {"datum": 8, "type": "quantitative", "title": null}, "text": {"field": "virus"}}}
    ]},
    {"width": 246, "height": 125, "layer": [
      {"transform": [{"filter": "datum.virus === 'SESV'"}, {"aggregate": [{"op": "count", "as": "n"}], "groupby": ["virus"]}], "mark": {"type": "rule", "color": "black", "strokeWidth": 2, "strokeDash": [1.5, 3.5]}, "encoding": {"x": {"datum": 0, "type": "quantitative", "title": null}, "x2": {"datum": 72}, "y": {"datum": 3, "type": "quantitative", "title": null}}},
      {"transform": [{"filter": "datum.virus === 'SESV' && datum.cell === 'Hela'"}], "mark": {"type": "line", "strokeWidth": 1.3, "color": "black"}, "encoding": {
        "x": {"field": "hour", "type": "quantitative", "scale": {"domain": [0, 72], "nice": false, "zero": false}, "axis": {"values": [0, 4, 8, 20, 24, 48, 72], "tickCount": 20, "format": "d", "encode": {"labels": {"update": {"dx": {"signal": "datum.value === 24 ? 3.5 : 0"}}}}}, "title": null},
        "y": {"field": "titer", "type": "quantitative", "scale": {"domain": [2.35, 8], "nice": false, "zero": false}, "axis": {"values": [2.6, 4, 6, 8], "tickCount": 20, "format": "d", "labelExpr": "datum.value < 3 ? 'ND' : datum.label"}, "title": null}}},
      {"transform": [{"filter": "datum.virus === 'SESV' && datum.cell === 'ΔG3BP'"}], "mark": {"type": "line", "strokeWidth": 1.3, "color": "#d0102a"}, "encoding": {"x": {"field": "hour", "type": "quantitative", "title": null}, "y": {"field": "titer", "type": "quantitative", "title": null}}},
      {"transform": [{"filter": "datum.virus === 'SESV' && datum.cell === 'Hela' && isValid(datum.lo)"}], "mark": {"type": "errorbar", "ticks": true, "size": 7, "thickness": 1.3, "color": "black"}, "encoding": {"x": {"field": "hour", "type": "quantitative", "title": null}, "y": {"field": "lo", "type": "quantitative", "title": null}, "y2": {"field": "hi"}}},
      {"transform": [{"filter": "datum.virus === 'SESV' && datum.cell === 'Hela'"}], "mark": {"type": "point", "shape": "circle", "filled": true, "opacity": 1, "size": 80, "color": "black"}, "encoding": {"x": {"field": "hour", "type": "quantitative", "title": null}, "y": {"field": "titer", "type": "quantitative", "title": null}}},
      {"transform": [{"filter": "datum.virus === 'SESV' && datum.cell === 'ΔG3BP'"}], "mark": {"type": "point", "shape": "square", "filled": true, "opacity": 1, "size": 90, "color": "#d0102a"}, "encoding": {"x": {"field": "hour", "type": "quantitative", "title": null}, "y": {"field": "titer", "type": "quantitative", "title": null}}},
      {"transform": [{"filter": "datum.virus === 'SESV'"}, {"aggregate": [{"op": "count", "as": "n"}], "groupby": ["virus"]}], "mark": {"type": "text", "fontWeight": "bold", "fontSize": 17, "font": "Liberation Sans", "align": "left", "baseline": "top", "dx": 13, "dy": 2, "color": "black"}, "encoding": {"x": {"datum": 0, "type": "quantitative", "title": null}, "y": {"datum": 8, "type": "quantitative", "title": null}, "text": {"field": "virus"}}}
    ]},
    {"width": 246, "height": 125, "layer": [
      {"transform": [{"filter": "datum.virus === 'UNAV'"}, {"aggregate": [{"op": "count", "as": "n"}], "groupby": ["virus"]}], "mark": {"type": "rule", "color": "black", "strokeWidth": 2, "strokeDash": [1.5, 3.5]}, "encoding": {"x": {"datum": 0, "type": "quantitative", "title": null}, "x2": {"datum": 72}, "y": {"datum": 3, "type": "quantitative", "title": null}}},
      {"transform": [{"filter": "datum.virus === 'UNAV' && datum.cell === 'Hela'"}], "mark": {"type": "line", "strokeWidth": 1.3, "color": "black"}, "encoding": {
        "x": {"field": "hour", "type": "quantitative", "scale": {"domain": [0, 72], "nice": false, "zero": false}, "axis": {"values": [0, 4, 8, 20, 24, 48, 72], "tickCount": 20, "format": "d", "encode": {"labels": {"update": {"dx": {"signal": "datum.value === 24 ? 3.5 : 0"}}}}}, "title": null},
        "y": {"field": "titer", "type": "quantitative", "scale": {"domain": [2.35, 8], "nice": false, "zero": false}, "axis": {"values": [2.6, 4, 6, 8], "tickCount": 20, "format": "d", "labelExpr": "datum.value < 3 ? 'ND' : datum.label"}, "title": null}}},
      {"transform": [{"filter": "datum.virus === 'UNAV' && datum.cell === 'ΔG3BP'"}], "mark": {"type": "line", "strokeWidth": 1.3, "color": "#d0102a"}, "encoding": {"x": {"field": "hour", "type": "quantitative", "title": null}, "y": {"field": "titer", "type": "quantitative", "title": null}}},
      {"transform": [{"filter": "datum.virus === 'UNAV' && datum.cell === 'Hela' && isValid(datum.lo)"}], "mark": {"type": "errorbar", "ticks": true, "size": 7, "thickness": 1.3, "color": "black"}, "encoding": {"x": {"field": "hour", "type": "quantitative", "title": null}, "y": {"field": "lo", "type": "quantitative", "title": null}, "y2": {"field": "hi"}}},
      {"transform": [{"filter": "datum.virus === 'UNAV' && datum.cell === 'Hela'"}], "mark": {"type": "point", "shape": "circle", "filled": true, "opacity": 1, "size": 80, "color": "black"}, "encoding": {"x": {"field": "hour", "type": "quantitative", "title": null}, "y": {"field": "titer", "type": "quantitative", "title": null}}},
      {"transform": [{"filter": "datum.virus === 'UNAV' && datum.cell === 'ΔG3BP'"}], "mark": {"type": "point", "shape": "square", "filled": true, "opacity": 1, "size": 90, "color": "#d0102a"}, "encoding": {"x": {"field": "hour", "type": "quantitative", "title": null}, "y": {"field": "titer", "type": "quantitative", "title": null}}},
      {"transform": [{"filter": "datum.virus === 'UNAV'"}, {"aggregate": [{"op": "count", "as": "n"}], "groupby": ["virus"]}], "mark": {"type": "text", "fontWeight": "bold", "fontSize": 17, "font": "Liberation Sans", "align": "left", "baseline": "top", "dx": 11, "dy": -1, "color": "black"}, "encoding": {"x": {"datum": 0, "type": "quantitative", "title": null}, "y": {"datum": 8, "type": "quantitative", "title": null}, "text": {"field": "virus"}}}
    ]},
    {"width": 246, "height": 125, "layer": [
      {"transform": [{"filter": "datum.virus === 'WHAV'"}, {"aggregate": [{"op": "count", "as": "n"}], "groupby": ["virus"]}], "mark": {"type": "rule", "color": "black", "strokeWidth": 2, "strokeDash": [1.5, 3.5]}, "encoding": {"x": {"datum": 0, "type": "quantitative", "title": null}, "x2": {"datum": 72}, "y": {"datum": 3, "type": "quantitative", "title": null}}},
      {"transform": [{"filter": "datum.virus === 'WHAV' && datum.cell === 'Hela'"}], "mark": {"type": "line", "strokeWidth": 1.3, "color": "black"}, "encoding": {
        "x": {"field": "hour", "type": "quantitative", "scale": {"domain": [0, 72], "nice": false, "zero": false}, "axis": {"values": [0, 4, 8, 20, 24, 48, 72], "tickCount": 20, "format": "d", "encode": {"labels": {"update": {"dx": {"signal": "datum.value === 24 ? 3.5 : 0"}}}}}, "title": null},
        "y": {"field": "titer", "type": "quantitative", "scale": {"domain": [2.35, 8], "nice": false, "zero": false}, "axis": {"values": [2.6, 4, 6, 8], "tickCount": 20, "format": "d", "labelExpr": "datum.value < 3 ? 'ND' : datum.label"}, "title": null}}},
      {"transform": [{"filter": "datum.virus === 'WHAV' && datum.cell === 'ΔG3BP'"}], "mark": {"type": "line", "strokeWidth": 1.3, "color": "#d0102a"}, "encoding": {"x": {"field": "hour", "type": "quantitative", "title": null}, "y": {"field": "titer", "type": "quantitative", "title": null}}},
      {"transform": [{"filter": "datum.virus === 'WHAV' && datum.cell === 'Hela' && isValid(datum.lo)"}], "mark": {"type": "errorbar", "ticks": true, "size": 7, "thickness": 1.3, "color": "black"}, "encoding": {"x": {"field": "hour", "type": "quantitative", "title": null}, "y": {"field": "lo", "type": "quantitative", "title": null}, "y2": {"field": "hi"}}},
      {"transform": [{"filter": "datum.virus === 'WHAV' && datum.cell === 'Hela'"}], "mark": {"type": "point", "shape": "circle", "filled": true, "opacity": 1, "size": 80, "color": "black"}, "encoding": {"x": {"field": "hour", "type": "quantitative", "title": null}, "y": {"field": "titer", "type": "quantitative", "title": null}}},
      {"transform": [{"filter": "datum.virus === 'WHAV' && datum.cell === 'ΔG3BP'"}], "mark": {"type": "point", "shape": "square", "filled": true, "opacity": 1, "size": 90, "color": "#d0102a"}, "encoding": {"x": {"field": "hour", "type": "quantitative", "title": null}, "y": {"field": "titer", "type": "quantitative", "title": null}}},
      {"transform": [{"filter": "datum.virus === 'WHAV'"}, {"aggregate": [{"op": "count", "as": "n"}], "groupby": ["virus"]}], "mark": {"type": "text", "fontWeight": "bold", "fontSize": 17, "font": "Liberation Sans", "align": "left", "baseline": "top", "dx": 13, "dy": 0, "color": "black"}, "encoding": {"x": {"datum": 0, "type": "quantitative", "title": null}, "y": {"datum": 8, "type": "quantitative", "title": null}, "text": {"field": "virus"}}}
    ]}
  ],
  "resolve": {
    "scale": {"x": "independent", "y": "independent", "color": "shared"},
    "legend": {"color": "shared"}
  },
  "config": {
    "view": {"stroke": null},
    "font": "Liberation Sans",
    "axis": {"grid": false, "domainColor": "black", "domainWidth": 2, "tickColor": "black", "tickWidth": 2, "tickSize": 5, "labelFont": "Liberation Sans", "labelFontSize": 15, "labelColor": "black", "labelPadding": 2, "titleFont": "Liberation Sans", "titleFontSize": 17, "titleFontWeight": "normal", "titleColor": "black", "labelOverlap": false, "labelFlush": false, "labelBound": false},
    "axisX": {"labelPadding": 3, "tickSize": 6},
    "legend": {"fillColor": "#efefef", "padding": 7, "labelFontSize": 17, "labelFont": "Liberation Sans", "labelColor": "black", "rowPadding": 5, "labelOffset": 4}
  }
}
